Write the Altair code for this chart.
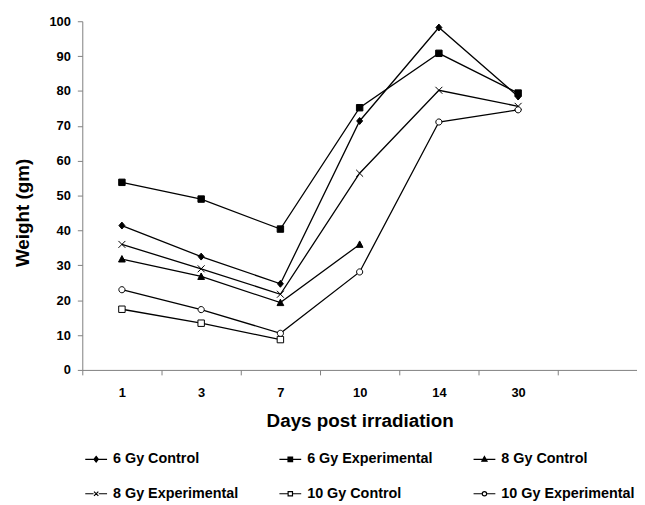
import altair as alt
import pandas as pd

days = ["1", "3", "7", "10", "14", "30"]
x_domain = days + [" "]
series = ["6 Gy Control", "6 Gy Experimental", "8 Gy Control",
          "8 Gy Experimental", "10 Gy Control", "10 Gy Experimental"]

gy6_control = [41.4, 32.5, 24.7, 71.4, 98.2, 78.4]
gy6_experimental = [53.8, 49.0, 40.4, 75.2, 90.8, 79.4]
gy8_control = [31.8, 26.8, 19.3, 36.0, None, None]
gy8_experimental = [36.0, 29.0, 21.7, 56.4, 80.2, 75.6]
gy10_control = [17.4, 13.4, 8.7, None, None, None]
gy10_experimental = [23.0, 17.3, 10.5, 28.1, 71.1, 74.6]

values = [gy6_control, gy6_experimental, gy8_control,
          gy8_experimental, gy10_control, gy10_experimental]

rows = []
for name, vals in zip(series, values):
    for d, v in zip(days, vals):
        if v is not None:
            rows.append({"day": d, "weight": v, "series": name})
df = pd.DataFrame(rows)

FONT = "Liberation Sans"

marker_paths = [
    "M0,-0.7L0.6,0L0,0.7L-0.6,0Z",
    "M-0.65,-0.65H0.65V0.65H-0.65Z",
    "M0,-0.7L0.68,0.6L-0.68,0.6Z",
    "M-0.7,-0.7L0.7,0.7M-0.7,0.7L0.7,-0.7",
    "M-0.65,-0.65H0.65V0.65H-0.65Z",
    "M0.62,0A0.62,0.62 0 1,1 -0.62,0A0.62,0.62 0 1,1 0.62,0Z",
]
legend_paths = [
    "M-1,0H1M0,-0.26L0.2,0L0,0.26L-0.2,0Z",
    "M-1,0H1M-0.21,-0.21H0.21V0.21H-0.21Z",
    "M-1,0H1M0,-0.26L0.24,0.18L-0.24,0.18Z",
    "M-1,0H-0.24M0.24,0H1M-0.2,-0.2L0.2,0.2M-0.2,0.2L0.2,-0.2",
    "M-1,0H-0.22M0.22,0H1M-0.2,-0.2H0.2V0.2H-0.2Z",
    "M-1,0H-0.22M0.22,0H1M0.2,0A0.2,0.2 0 1,1 -0.2,0A0.2,0.2 0 1,1 0.2,0Z",
]
fills = ["black", "black", "black", "white", "white", "white"]
strokes = ["black"] * 6

x_enc = alt.X(
    "day:N",
    scale=alt.Scale(type="band", domain=x_domain, paddingInner=0, paddingOuter=0),
    axis=alt.Axis(
        title="Days post irradiation", tickBand="extent", labelAngle=0,
        labelFont=FONT, labelFontSize=13, labelFontWeight="bold", labelColor="black",
        labelBaseline="alphabetic", labelPadding=22, tickSize=5,
        titleFont=FONT, titleFontSize=19, titleFontWeight="bold", titleColor="black",
        titleBaseline="alphabetic", titleY=57,
        domainColor="#808080", tickColor="#808080", grid=False,
    ),
)
y_enc = alt.Y(
    "weight:Q",
    scale=alt.Scale(domain=[0, 100], nice=False),
    axis=alt.Axis(
        title="Weight (gm)", values=list(range(0, 101, 10)),
        labelFont=FONT, labelFontSize=13, labelFontWeight="bold", labelColor="black",
        labelPadding=7, tickSize=5,
        titleFont=FONT, titleFontSize=19, titleFontWeight="bold", titleColor="black",
        titleX=-50, titleY=193, titleBaseline="bottom",
        domainColor="#808080", tickColor="#808080", grid=False,
    ),
)

base = alt.Chart(df)

lines = base.mark_line(color="black", strokeWidth=1.3).encode(
    x=x_enc, y=y_enc, detail="series:N"
)

points = base.mark_point(filled=False, size=100, stroke="black", strokeWidth=1, opacity=1).encode(
    x=x_enc, y=y_enc,
    shape=alt.Shape("series:N", scale=alt.Scale(domain=series, range=marker_paths), legend=None),
    fill=alt.Fill("series:N", scale=alt.Scale(domain=series, range=fills), legend=None),
)

leg = alt.Legend(
    title=None, orient="none", legendX=2, legendY=430, columns=3, direction="horizontal",
    columnPadding=38, rowPadding=16, labelFont=FONT, labelFontSize=14.5,
    labelFontWeight="bold", labelColor="black", labelOffset=5,
    symbolSize=484, symbolStrokeWidth=1.2, symbolStrokeColor="black",
    labelLimit=300,
)

legend_layer = base.transform_filter("false").mark_point(
    filled=False, size=484, strokeWidth=1.2, opacity=1
).encode(
    x=x_enc, y=y_enc,
    shape=alt.Shape("series:N", scale=alt.Scale(domain=series, range=legend_paths), legend=leg),
    fill=alt.Fill("series:N", scale=alt.Scale(domain=series, range=fills), legend=leg),
    stroke=alt.Stroke("series:N", scale=alt.Scale(domain=series, range=strokes), legend=leg),
)

chart = alt.layer(lines, points, legend_layer).resolve_scale(
    shape="independent", fill="independent", stroke="independent"
).properties(
    width=560, height=352,
    autosize=alt.AutoSizeParams(type="none"),
    padding={"left": 75, "top": 11, "right": 0, "bottom": 134},
    background="white",
).configure_view(stroke=None)

chart.save("out.html", embed_options={"renderer": "svg", "actions": False})
